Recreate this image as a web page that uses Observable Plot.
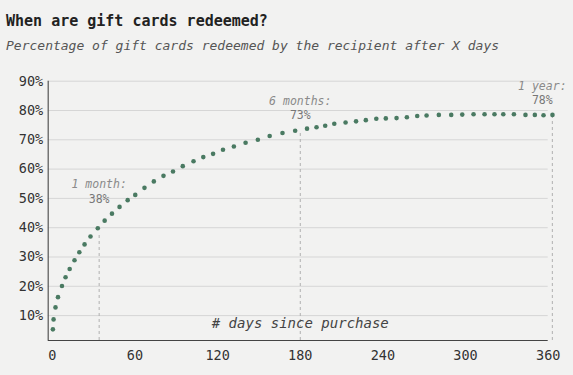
<!DOCTYPE html>
<html>
<head>
<meta charset="utf-8">
<script src="https://cdn.jsdelivr.net/npm/d3@7"></script>
<script src="https://cdn.jsdelivr.net/npm/@observablehq/plot@0.6"></script>
<style>
  html, body { margin: 0; padding: 0; background: #f2f2f1; }
  body { position: relative; width: 573px; height: 375px; overflow: hidden; font-family: "DejaVu Sans Mono", monospace; }
  #title { position: absolute; left: 6px; top: 14px; font-size: 15px; line-height: 1; font-weight: bold; color: #222; white-space: nowrap; }
  #subtitle { position: absolute; left: 6px; top: 39px; font-size: 13px; line-height: 1; font-style: italic; color: #555; white-space: nowrap; }
  #chart { position: absolute; left: 0; top: 60px; }
</style>
</head>
<body>
<div id="title">When are gift cards redeemed?</div>
<div id="subtitle">Percentage of gift cards redeemed by the recipient after X days</div>
<div id="chart"></div>
<script>
// Days since purchase and cumulative % redeemed
const days = [0.4, 0.9, 2.3, 4.1, 7.0, 9.6, 12.6, 16.1, 19.6, 23.4,
  27.7, 33.0, 38.0, 43.3, 48.8, 54.7, 60.2, 66.9, 73.7, 80.7,
  87.6, 94.7, 102.5, 109.6, 116.7, 123.9, 131.8, 140.3, 149.2, 157.8,
  167.1, 176.3, 184.9, 191.8, 198.1, 204.7, 212.9, 220.5, 227.6, 235.2,
  242.1, 249.9, 257.4, 264.9, 271.7, 280.6, 289.6, 297.6, 305.8, 313.8,
  321.0, 327.4, 335.1, 343.5, 350.3, 356.6, 363.1];
const pct = [5.3, 8.7, 12.8, 16.3, 20.1, 23.1, 25.9, 28.9, 31.6, 34.3,
  37.0, 39.8, 42.4, 44.8, 47.1, 49.4, 51.2, 53.6, 55.8, 57.7,
  59.2, 61.0, 62.7, 64.1, 65.2, 66.6, 67.7, 69.0, 70.0, 71.3,
  72.3, 73.1, 73.8, 74.3, 74.8, 75.5, 75.9, 76.3, 76.7, 77.2,
  77.3, 77.4, 77.7, 78.1, 78.3, 78.5, 78.5, 78.6, 78.7, 78.7,
  78.7, 78.7, 78.7, 78.5, 78.5, 78.4, 78.5];

// Annotations
const annDays = [34, 180, 363];
const annPct = [38, 73, 78];
const annTitles = ["1 month:", "6 months:", "1 year:"];
const annValues = ["38%", "73%", "78%"];

// Axis ticks
const xTicks = [0, 60, 120, 180, 240, 300, 360];
const yTicks = [10, 20, 30, 40, 50, 60, 70, 80, 90];
const xLabel = "# days since purchase";

const points = days.map((d, i) => ({day: d, pct: pct[i]}));
const ann = annDays.map((d, i) => ({day: d, pct: annPct[i], title: annTitles[i], value: annValues[i]}));
const annA = ann.slice(0, 1);
const annB = ann.slice(1, 2);
const annC = ann.slice(2);

const font = "DejaVu Sans Mono";
const yMin = 1.5;

const chart = Plot.plot({
  width: 573,
  height: 315,
  marginLeft: 47.7,
  marginRight: 25.3,
  marginTop: 20.7,
  marginBottom: 35,
  style: {background: "transparent", fontFamily: font, fontSize: "13.5px", color: "#333"},
  x: {domain: [-3, 360], ticks: xTicks, tickSize: 0, tickPadding: 10, label: null},
  y: {domain: [yMin, 90], ticks: yTicks, tickSize: 0, tickPadding: 5, label: null, tickFormat: d => d + "%"},
  marks: [
    Plot.gridY(yTicks, {stroke: "#d6d6d6", strokeOpacity: 1, strokeWidth: 1}),
    Plot.ruleX(ann, {x: "day", y1: yMin, y2: "pct", stroke: "#b0b0b0", strokeWidth: 1, strokeDasharray: "3,3"}),
    Plot.ruleX([-3], {y1: yMin, y2: 90, stroke: "#555", strokeWidth: 1.2}),
    Plot.ruleY([yMin], {x1: -3, x2: 360, stroke: "#444", strokeWidth: 1.2}),
    Plot.dot(points, {x: "day", y: "pct", r: 2.3, fill: "#4a7a62", stroke: "none"}),
    Plot.text(annA, {x: "day", y: "pct", text: "title", dy: -49, fontSize: 11.5, fontStyle: "italic", fill: "#8a8a8a"}),
    Plot.text(annA, {x: "day", y: "pct", text: "value", dy: -34, fontSize: 11.5, fill: "#777"}),
    Plot.text(annB, {x: "day", y: "pct", text: "title", dy: -30, fontSize: 11.5, fontStyle: "italic", fill: "#8a8a8a"}),
    Plot.text(annB, {x: "day", y: "pct", text: "value", dy: -16, fontSize: 11.5, fill: "#777"}),
    Plot.text(annC, {x: "day", y: "pct", text: "title", dx: -10, dy: -30, fontSize: 11.5, fontStyle: "italic", fill: "#8a8a8a"}),
    Plot.text(annC, {x: "day", y: "pct", text: "value", dx: -10, dy: -16, fontSize: 11.5, fill: "#777"}),
    Plot.text([xLabel], {x: 180, frameAnchor: "bottom", dy: -13, fontSize: 14, fontStyle: "italic", fill: "#444"})
  ]
});
document.getElementById("chart").appendChild(chart);
</script>
</body>
</html>
